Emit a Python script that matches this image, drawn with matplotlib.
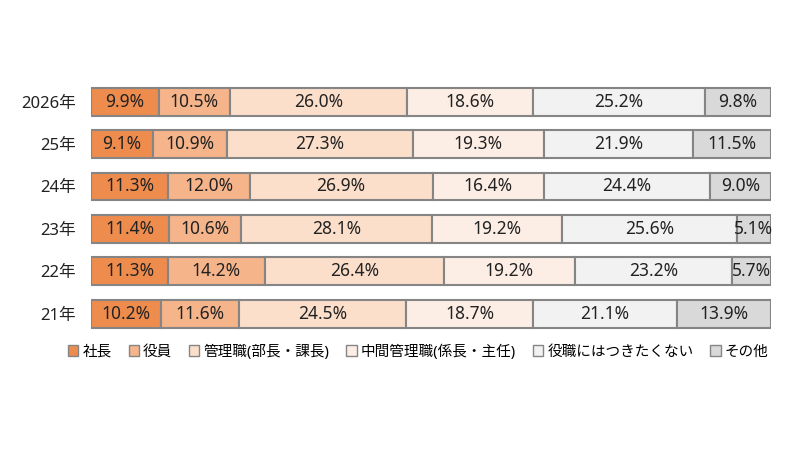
import matplotlib
matplotlib.use("Agg")
import matplotlib.pyplot as plt
from matplotlib.patches import Patch
import numpy as np

plt.rcParams['font.family'] = ['Noto Sans', 'Noto Sans CJK JP', 'DejaVu Sans']

years = ["2026年", "25年", "24年", "23年", "22年", "21年"]
categories = ["社長", "役員", "管理職(部長・課長)", "中間管理職(係長・主任)", "役職にはつきたくない", "その他"]
shachou = [9.9, 9.1, 11.3, 11.4, 11.3, 10.2]
yakuin = [10.5, 10.9, 12.0, 10.6, 14.2, 11.6]
kanrishoku = [26.0, 27.3, 26.9, 28.1, 26.4, 24.5]
chukan = [18.6, 19.3, 16.4, 19.2, 19.2, 18.7]
nashi = [25.2, 21.9, 24.4, 25.6, 23.2, 21.1]
sonota = [9.8, 11.5, 9.0, 5.1, 5.7, 13.9]
series = [shachou, yakuin, kanrishoku, chukan, nashi, sonota]
colors = ["#EE8C4E", "#F5B48A", "#FBDFCB", "#FDEEE5", "#F2F2F2", "#D9D9D9"]
edge = "#858585"

fig = plt.figure(figsize=(8, 4.5), dpi=100)
ax = fig.add_axes([0.114, 0.256, 0.85, 0.565])

y = np.arange(len(years))
left = np.zeros(len(years))
for vals, c in zip(series, colors):
    vals = np.array(vals)
    ax.barh(y, vals, left=left, height=0.66, color=c, edgecolor=edge, linewidth=1.5)
    for yi, l, v in zip(y, left, vals):
        ax.text(l + v / 2, yi, f"{v:.1f}%", ha="center", va="center", fontsize=12.5, color="#222222")
    left += vals

ax.set_xlim(0, 100)
ax.set_ylim(len(years) - 0.5, -0.5)
ax.set_yticks(y)
ax.set_yticklabels(years, fontsize=12, color="#222222")
ax.tick_params(axis="y", length=0, pad=11)
ax.set_xticks([])
for s in ax.spines.values():
    s.set_visible(False)

handles = [Patch(facecolor=c, edgecolor=edge, linewidth=1.0) for c in colors]
fig.legend(handles, categories, loc="center", bbox_to_anchor=(0.523, 0.218), ncol=6,
           frameon=False, fontsize=10.5, handlelength=0.7, handleheight=0.7,
           handletextpad=0.3, columnspacing=1.15)

fig.savefig("out.png", dpi=100)
